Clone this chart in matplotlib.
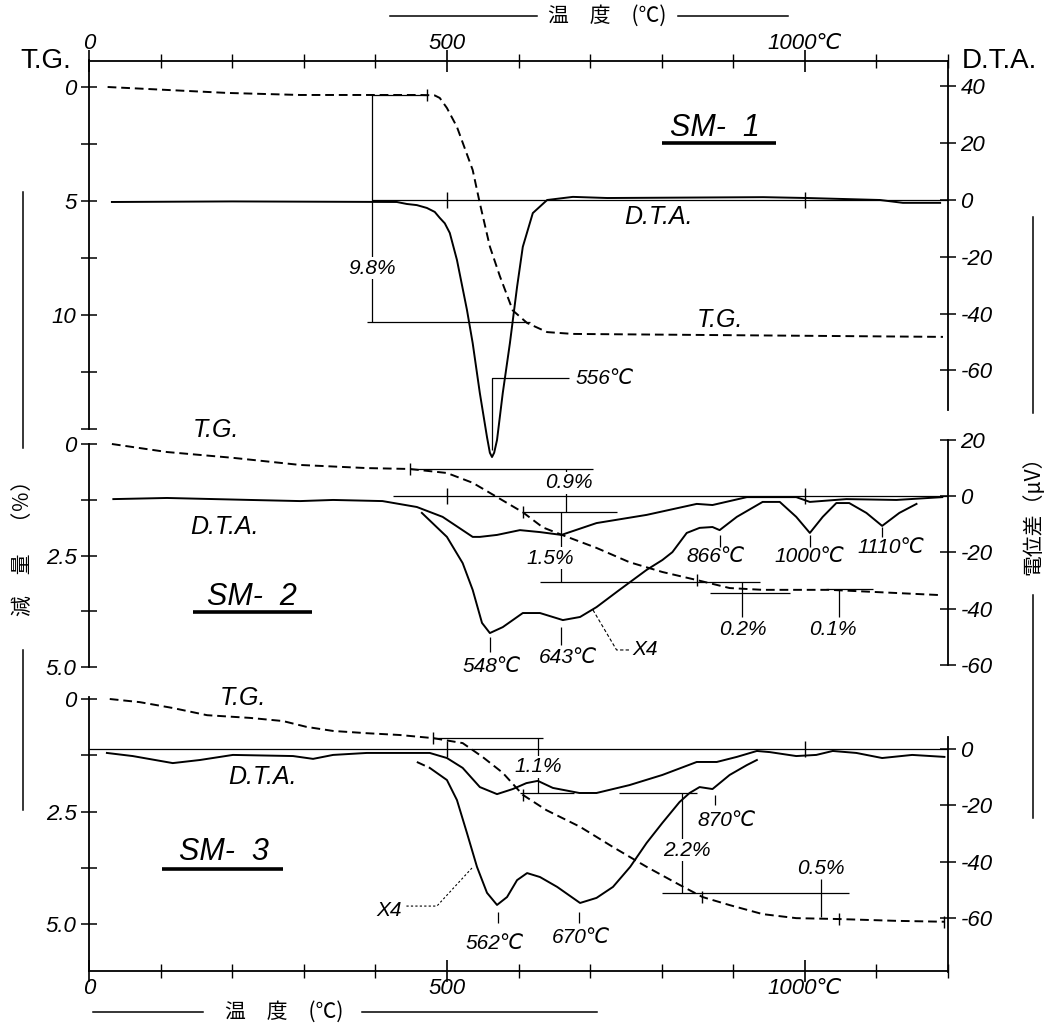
import numpy as np
import matplotlib.pyplot as plt
from matplotlib.lines import Line2D

plt.rcParams['font.family'] = ['Liberation Sans', 'DejaVu Sans']
CJK = ['Noto Sans CJK JP', 'DejaVu Sans']

# ---------------- data: temperature (C), T.G. (%), D.T.A. (uV) ----------------
# SM-1
sm1_tg_t = [26, 193, 295, 394, 462, 476, 483, 490, 500, 514, 536, 546, 560, 574, 592, 612, 640, 676, 1193]
sm1_tg = [0.0, 0.26, 0.35, 0.35, 0.35, 0.36, 0.37, 0.48, 0.92, 1.75, 3.64, 5.1, 7.0, 8.3, 9.8, 10.35, 10.75, 10.83, 10.96]
sm1_dta_t = [32, 200, 430, 444, 458, 472, 483, 490, 497, 504, 514, 528, 536, 546, 556, 560, 563, 566, 570, 578,
             588, 598, 606, 620, 640, 676, 724, 942, 1003, 1105, 1137, 1189]
sm1_dta = [-0.7, -0.5, -0.7, -1.4, -1.8, -2.8, -4.2, -6.3, -8.2, -11.6, -21.1, -38.7, -50.4, -68, -83.5, -89,
           -90.5, -89, -84.5, -68, -50.4, -30.6, -16.5, -4.6, 0, 1.1, 0.7, 1.0, 0.7, 0, -1, -1]

# SM-2
sm2_tg_t = [32, 109, 201, 295, 388, 448, 500, 536, 570, 606, 634, 661, 709, 755, 801, 849, 895, 941, 1035, 1192]
sm2_tg = [0, 0.18, 0.31, 0.47, 0.54, 0.56, 0.65, 0.87, 1.19, 1.53, 1.87, 2.04, 2.33, 2.65, 2.87, 3.05, 3.23,
          3.27, 3.27, 3.39]
sm2_dta_t = [34, 109, 225, 295, 341, 410, 458, 494, 536, 546, 570, 602, 630, 660, 709, 779, 849, 871, 919, 988,
             1007, 1058, 1128, 1192]
sm2_dta = [-1.1, -0.7, -1.4, -1.8, -1.4, -1.8, -3.9, -7.4, -14.5, -14.5, -13.8, -12.1, -12.8, -13.8, -9.6, -6.7,
           -2.8, -3.2, -0.4, -0.4, -2.1, -1.1, -1.4, -0.4]
sm2_x4_t = [465, 500, 522, 536, 549, 560, 578, 606, 630, 662, 686, 709, 741, 779, 801, 815, 835, 853, 871, 881,
            905, 941, 965, 988, 1007, 1025, 1044, 1062, 1086, 1108, 1132, 1156]
sm2_x4 = [-6.0, -14.5, -23.8, -33.3, -45, -48.6, -46.5, -41.5, -41.5, -44, -42.9, -39.4, -33.3, -26.2, -22.7,
          -19.9, -13.1, -11.3, -11, -12.1, -7.4, -2.1, -2.1, -7.4, -13.1, -7.4, -2.5, -2.5, -6, -10.6, -6, -2.8]

# SM-3
sm3_tg_t = [29, 71, 117, 165, 225, 271, 304, 341, 388, 434, 481, 522, 550, 578, 606, 639, 686, 732, 779, 825,
            857, 895, 941, 988, 1048, 1128, 1195]
sm3_tg = [0.0, 0.07, 0.2, 0.36, 0.42, 0.49, 0.62, 0.71, 0.76, 0.8, 0.87, 0.98, 1.29, 1.64, 2.13, 2.47, 2.84,
          3.29, 3.73, 4.13, 4.4, 4.58, 4.78, 4.87, 4.89, 4.93, 4.95]
sm3_dta_t = [25, 61, 117, 155, 201, 285, 313, 341, 388, 458, 476, 500, 522, 546, 570, 592, 611, 627, 648, 685,
             709, 755, 801, 849, 877, 905, 933, 951, 988, 1016, 1039, 1072, 1108, 1150, 1195]
sm3_dta = [-1.4, -2.5, -5, -3.9, -2.1, -2.5, -3.5, -2.1, -1.4, -1.4, -1.4, -3.2, -6.7, -13.5, -16, -14.2, -12.1,
           -11.3, -13.8, -15.6, -15.6, -12.8, -9.2, -4.6, -4.6, -2.8, -0.7, -1.1, -2.5, -2.1, -0.7, -1.4, -3.2,
           -2.1, -2.8]
sm3_x4_t = [458, 476, 500, 514, 528, 542, 556, 570, 584, 598, 612, 630, 654, 686, 709, 732, 756, 779, 801, 825,
            839, 853, 871, 895, 919, 933]
sm3_x4 = [-4.6, -6.7, -11, -18.1, -29.8, -41.8, -51, -55.3, -52.5, -46.5, -44, -45.4, -48.9, -54.6, -52.8, -48.9,
          -41.8, -33.3, -26.2, -18.8, -15.6, -13.5, -14.2, -9.2, -5.7, -3.9]

x_major = [0, 500, 1000]
x_major_labels = ['0', '500', '1000℃']

# ---------------- layout (pixels of the 1060x1025 picture) ----------------
W, H = 1060, 1025
XL, XR = 89, 948
TOP, BOT = 61, 971


def fx(px):
    return px / W


def fy(py):
    return 1 - py / H


fig = plt.figure(figsize=(W / 100, H / 100), dpi=100)
fig.patch.set_facecolor('white')

ax = fig.add_axes([fx(XL), fy(BOT), fx(XR) - fx(XL), fy(TOP) - fy(BOT)])
ax.set_xlim(0, 1200)
ax.set_yticks([])
ax.spines['left'].set_visible(False)
ax.spines['right'].set_visible(False)
ax.spines['top'].set_linewidth(1.3)
ax.spines['bottom'].set_linewidth(1.3)
ax.set_xticks(x_major)
ax.set_xticks(range(0, 1201, 100), minor=True)
ax.tick_params(axis='x', which='both', top=True, bottom=True, direction='inout',
               labeltop=True, labelbottom=True)
ax.tick_params(axis='x', which='major', length=16, width=1.2, labelsize=16, pad=-3)
ax.tick_params(axis='x', which='minor', length=10, width=1)
ax.set_xticklabels(x_major_labels, fontstyle='italic')

LW = 1.4
THIN = 0.9
DASH = (0, (4.5, 2.5))


def panel(ytop, ybot, tg0, tg_px, dta0, dta_px):
    a = fig.add_axes([fx(XL), fy(ybot), fx(XR) - fx(XL), fy(ytop) - fy(ybot)])
    a.set_facecolor('none')
    a.set_xlim(0, 1200)
    a.set_ylim((ybot - tg0) / tg_px, (ytop - tg0) / tg_px)
    b = a.twinx()
    b.set_ylim((dta0 - ybot) / dta_px, (dta0 - ytop) / dta_px)
    for s in ['top', 'bottom', 'right']:
        a.spines[s].set_visible(False)
    for s in ['top', 'bottom', 'left']:
        b.spines[s].set_visible(False)
    a.spines['left'].set_linewidth(1.3)
    b.spines['right'].set_linewidth(1.3)
    for z in (a, b):
        z.tick_params(axis='x', bottom=False, top=False, labelbottom=False, labeltop=False)
        z.tick_params(axis='y', direction='inout', length=12, width=1.1, labelsize=16, pad=3)
    return a, b


def seg(a, xs, ys, lw=THIN, **kw):
    a.plot(xs, ys, color='k', lw=lw, clip_on=False, solid_capstyle='butt', **kw)


def note(a, x, y, s, size=15, **kw):
    kw.setdefault('ha', 'center')
    a.text(x, y, s, fontsize=size, fontstyle='italic', va='center', clip_on=False, **kw)


WHITE = dict(fc='white', ec='none', pad=1)

# ---------------- SM-1 ----------------
a1, b1 = panel(61, 429, 87, 22.8, 200, 2.84)
a1.set_yticks([0, 2.5, 5, 7.5, 10, 12.5, 15])
a1.set_yticklabels(['0', '', '5', '', '10', '', ''], fontstyle='italic')
a1.spines['left'].set_bounds(-1.2, 15)
b1.set_yticks([40, 20, 0, -20, -40, -60])
b1.set_yticklabels(['40', '20', '0', '-20', '-40', '-60'], fontstyle='italic')
b1.spines['right'].set_bounds(-74, 49)

a1.plot(sm1_tg_t, sm1_tg, color='k', lw=LW, ls=DASH, clip_on=False)
b1.plot(sm1_dta_t, sm1_dta, color='k', lw=LW, clip_on=False)
seg(b1, [395, 1200], [0, 0])
b1.plot([500, 1000], [0, 0], ls='none', marker='|', ms=12, mew=1, color='k')
a1.plot([472], [0.35], ls='none', marker='|', ms=9, mew=1, color='k')
seg(a1, [395, 395], [0.35, 10.3])
seg(a1, [395, 472], [0.35, 0.35])
seg(a1, [388, 616], [10.3, 10.3])
note(a1, 396, 7.94, '9.8%', bbox=WHITE)
seg(b1, [563, 563, 671], [-88, -62.7, -62.7])
note(b1, 680, -62.7, '556℃', ha='left')
note(b1, 796, -6, 'D.T.A.', size=18)
note(a1, 881, 10.2, 'T.G.', size=18)
note(a1, 875, 1.8, 'SM-  1', size=22)
seg(a1, [801, 960], [2.46, 2.46], lw=2.6)

# ---------------- SM-2 ----------------
a2, b2 = panel(433, 667, 444, 44.6, 496, 2.82)
a2.set_yticks([0, 1.25, 2.5, 3.75, 5.0])
a2.set_yticklabels(['0', '', '2.5', '', '5.0'], fontstyle='italic')
a2.spines['left'].set_bounds(0, 5.0)
b2.set_yticks([20, 0, -20, -40, -60])
b2.set_yticklabels(['20', '0', '-20', '-40', '-60'], fontstyle='italic')
b2.spines['right'].set_bounds(-60, 20)

a2.plot(sm2_tg_t, sm2_tg, color='k', lw=LW, ls=DASH, clip_on=False)
b2.plot(sm2_dta_t, sm2_dta, color='k', lw=LW, clip_on=False)
b2.plot(sm2_x4_t, sm2_x4, color='k', lw=LW, clip_on=False)
seg(b2, [424, 1200], [0, 0])
b2.plot([500, 1000], [0, 0], ls='none', marker='|', ms=12, mew=1, color='k')
a2.plot([448, 606, 849], [0.56, 1.53, 3.05], ls='none', marker='|', ms=9, mew=1, color='k')
seg(a2, [448, 704], [0.56, 0.56])
seg(a2, [666, 666], [0.56, 1.52])
note(a2, 671, 0.87, '0.9%', bbox=WHITE)
seg(a2, [606, 738], [1.52, 1.52])
seg(a2, [660, 660], [1.52, 3.09])
note(a2, 644, 2.56, '1.5%', bbox=WHITE)
seg(a2, [630, 937], [3.09, 3.09])
seg(a2, [867, 979], [3.34, 3.34])
seg(a2, [912, 912], [3.09, 3.88])
note(a2, 913, 4.17, '0.2%')
seg(a2, [1030, 1095], [3.25, 3.25])
seg(a2, [1048, 1048], [3.25, 3.88])
note(a2, 1039, 4.17, '0.1%')
seg(b2, [560, 560], [-50, -55.3])
note(b2, 563, -60.6, '548℃')
seg(b2, [660, 660], [-46.5, -52.8])
note(b2, 669, -57.4, '643℃')
seg(b2, [881, 881], [-13.8, -18.1])
note(b2, 875, -21.6, '866℃')
seg(b2, [1007, 1007], [-13.8, -18.1])
note(b2, 1007, -21.6, '1000℃')
seg(b2, [1108, 1108], [-11, -14.5])
note(b2, 1120, -18.4, '1110℃')
b2.plot([704, 737, 755], [-40.4, -54.6, -54.6], color='k', lw=0.8, ls=(0, (3, 2)), clip_on=False)
note(b2, 759, -54.6, 'X4', ha='left')
note(a2, 177, -0.31, 'T.G.', size=18)
note(b2, 190, -11, 'D.T.A.', size=18)
note(a2, 228, 3.43, 'SM-  2', size=22)
seg(a2, [145, 311], [3.77, 3.77], lw=2.6)

# ---------------- SM-3 ----------------
a3, b3 = panel(697, 971, 699, 45.0, 749, 2.82)
a3.set_yticks([0, 1.25, 2.5, 3.75, 5.0])
a3.set_yticklabels(['0', '', '2.5', '', '5.0'], fontstyle='italic')
a3.spines['left'].set_bounds(-0.05, 6.05)
b3.set_yticks([0, -20, -40, -60])
b3.set_yticklabels(['0', '-20', '-40', '-60'], fontstyle='italic')
b3.spines['right'].set_bounds(-79, 4.3)

a3.plot(sm3_tg_t, sm3_tg, color='k', lw=LW, ls=DASH, clip_on=False)
b3.plot(sm3_dta_t, sm3_dta, color='k', lw=LW, clip_on=False)
b3.plot(sm3_x4_t[:2], sm3_x4[:2], color='k', lw=LW, ls=DASH, clip_on=False)
b3.plot(sm3_x4_t[1:], sm3_x4[1:], color='k', lw=LW, clip_on=False)
seg(b3, [0, 1200], [0, 0])
b3.plot([500, 1000], [0, 0], ls='none', marker='|', ms=12, mew=1, color='k')
a3.plot([481, 606, 857, 1048, 1195], [0.87, 2.13, 4.4, 4.89, 4.95], ls='none', marker='|', ms=9, mew=1,
        color='k')
seg(a3, [480, 634], [0.87, 0.87])
seg(a3, [627, 627], [0.87, 2.09])
note(a3, 627, 1.51, '1.1%', bbox=WHITE)
seg(a3, [602, 678], [2.09, 2.09])
seg(a3, [741, 850], [2.09, 2.09])
seg(a3, [828, 828], [2.09, 4.31])
note(a3, 835, 3.36, '2.2%', bbox=WHITE)
seg(a3, [801, 1062], [4.31, 4.31])
seg(a3, [1022, 1022], [4.0, 4.84])
note(a3, 1023, 3.76, '0.5%')
seg(b3, [571, 571], [-57.8, -61.7])
note(b3, 567, -68.8, '562℃')
seg(b3, [685, 685], [-57.8, -61.7])
note(b3, 688, -66.7, '670℃')
seg(b3, [875, 875], [-16.3, -19.9])
note(b3, 891, -25.2, '870℃')
b3.plot([535, 486, 441], [-42.2, -55.7, -55.7], color='k', lw=0.8, ls=(0, (2, 2)), clip_on=False)
note(b3, 437, -57.1, 'X4', ha='right')
note(a3, 215, -0.02, 'T.G.', size=18)
note(b3, 242, -9.9, 'D.T.A.', size=18)
note(a3, 188, 3.4, 'SM-  3', size=22)
seg(a3, [102, 271], [3.78, 3.78], lw=2.6)

# ---------------- outer labels ----------------
fig.text(fx(46), fy(61), 'T.G.', fontsize=20, ha='center', va='center')
fig.text(fx(999), fy(61), 'D.T.A.', fontsize=20, ha='center', va='center')


def fline(x0, y0, x1, y1):
    fig.add_artist(Line2D([fx(x0), fx(x1)], [fy(y0), fy(y1)], transform=fig.transFigure,
                          color='k', lw=1.1))


fig.text(fx(607), fy(16), '温　度　(℃)', family=CJK, fontsize=15, ha='center', va='center')
fline(390, 16, 537, 16)
fline(678, 16, 788, 16)
fig.text(fx(284), fy(1012), '温　度　(℃)', family=CJK, fontsize=15, ha='center', va='center')
fline(93, 1012, 203, 1012)
fline(362, 1012, 597, 1012)

fig.text(fx(23), fy(543), '減　量　（％）', family=CJK, fontsize=15, rotation=90, ha='center', va='center')
fline(23, 192, 23, 448)
fline(23, 650, 23, 810)
fig.text(fx(1033), fy(510), '電位差（µV）', family=CJK, fontsize=15, rotation=90, ha='center', va='center')
fline(1033, 217, 1033, 413)
fline(1033, 595, 1033, 818)

fig.savefig('out.png', dpi=100, facecolor='white')
